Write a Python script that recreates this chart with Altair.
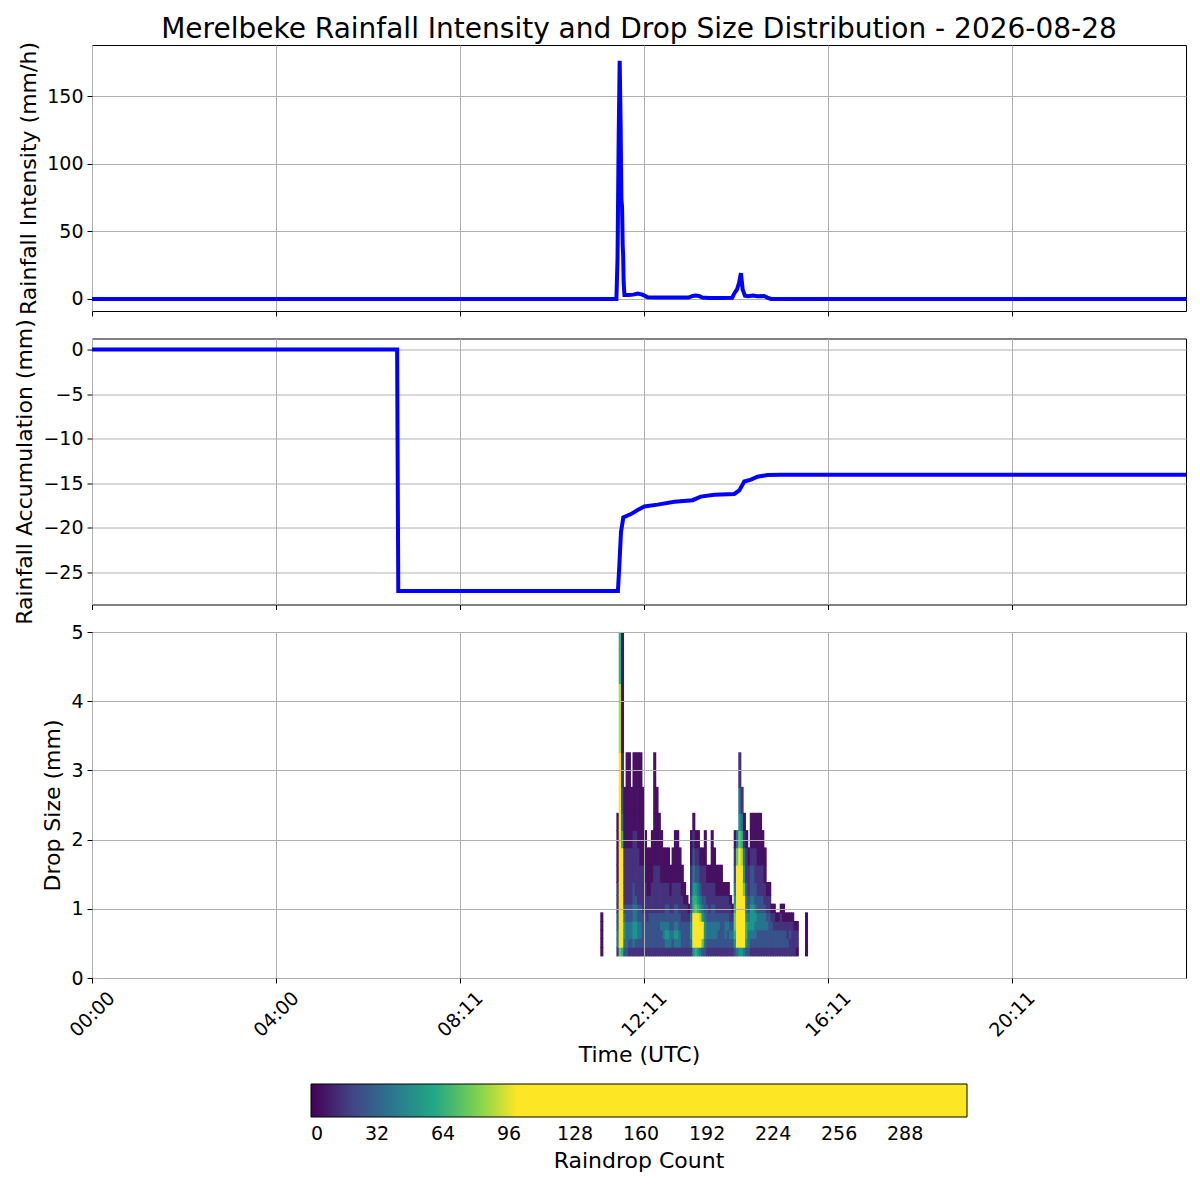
import altair as alt
import pandas as pd

TITLE = "Merelbeke Rainfall Intensity and Drop Size Distribution - 2026-08-28"

# x axis: minutes since start of the day
X_MAX = 1427
TICK_VALUES = [0, 240, 480, 720, 960, 1200]
TICK_LABELS = ["00:00", "04:00", "08:11", "12:11", "16:11", "20:11"]

# Rainfall intensity (mm/h)
T_INT = [0, 684, 685.5, 687, 688.3, 689.5, 690.5, 691.4, 692.2, 692.8, 693.5, 694.5, 700, 706, 712, 718,
         724.8, 735, 750, 765, 778, 783.5, 787, 791.7, 796, 805, 820, 835, 838.7, 841.3, 844,
         846.5, 848.7, 851.7, 856, 862, 868, 876.5, 881, 885.6, 1427]
V_INT = [0, 0, 30, 120, 176, 130, 74, 68, 40, 33, 12, 3, 3, 3.2, 4, 3.2,
         1.2, 1, 1, 1.1, 1, 2.2, 2.5, 2.2, 1, 0.8, 0.8, 0.9, 5, 7, 12,
         19, 7, 2.4, 2, 2.5, 2, 2.2, 1, 0, 0]

# Rainfall accumulation (mm)
T_ACC = [0, 398, 399.5, 686, 688, 690, 693, 703, 711.7, 720.4, 737.8, 759.5, 783.5, 794,
         811.7, 837.8, 844.3, 850.8, 859.5, 868, 881, 898.7, 1427]
V_ACC = [0, 0, -27.1, -27.1, -24, -20.5, -18.83, -18.46, -18.0, -17.6, -17.4, -17.07, -16.9, -16.5,
         -16.3, -16.2, -15.8, -14.8, -14.6, -14.27, -14.08, -14.04, -14.04]

# Drop size distribution: 3-minute columns from minute 663, each string lists
# count levels for the drop-size classes from the smallest upward
DSD_T0 = 663
DSD_STEP = 3
SIZE_EDGES = [0.312, 0.437, 0.562, 0.687, 0.812, 0.937, 1.062, 1.187, 1.375, 1.625,
              1.875, 2.125, 2.375, 2.75, 3.25, 3.75, 4.25, 4.75, 5.25]
LEVEL_COUNTS = [0, 4, 14, 25, 38, 52, 64, 76, 88, 180]
DSD_COLUMNS = [
    "11111", "", "", "", "", "", "",
    "244332221111", "799999999999998866", "699999999964321111", "3455432222111",
    "34443322221111", "23443322221111", "2344332222111", "24554433222111",
    "23554432222111", "23443322221111", "23443322211111", "2333322221111",
    "23333222111", "2333222111", "2333322111", "23333222111",
    "23333222211111", "2333322221111", "233332222111", "23343222111",
    "2344322211", "2454332211", "2454332211", "244332211",
    "2343322211", "24543322111", "24543322111", "2443322211",
    "233322211", "23332211", "2333221", "233321",
    "24554332211", "599996654321", "69999765321", "59999654321",
    "4999854321", "3799543221", "34554332211", "234433221",
    "234432221", "23443322111", "2344332211", "234432211",
    "233432211", "233332211", "23333221", "23443221",
    "23343221", "2343221", "234321", "35677654321",
    "49999999974", "59999999997542", "5999999998642", "499999975421",
    "35665443221", "3445433221", "234555433211", "234555433211",
    "234454332211", "233443322111", "233443322111", "23344332211",
    "2334432211", "23343221", "23333221", "233321",
    "233221", "23321", "23321", "233221",
    "233211", "23321", "23221", "22321",
    "22221", "2221", "1221", "",
    "", "", "11111",
]

COLOR_DOMAIN = [0, 10, 20, 30, 40, 50, 60, 70, 80, 90, 100, 318]
COLOR_RANGE = ["#440154", "#482475", "#414487", "#355f8d", "#2a788e", "#21918c",
               "#22a884", "#44bf70", "#7ad151", "#bddf26", "#fde725", "#fde725"]
CBAR_TICKS = [0, 32, 64, 96, 128, 160, 192, 224, 256, 288]

FONT = "DejaVu Sans"

df_int = pd.DataFrame({"t": T_INT, "v": V_INT})
df_acc = pd.DataFrame({"t": T_ACC, "v": V_ACC})

# cells overlap their neighbours by about one pixel so no white seams show
SEAM_T = 1.0
SEAM_S = 0.012
rows = []
for c, col in enumerate(DSD_COLUMNS):
    t0 = DSD_T0 + c * DSD_STEP
    for i, ch in enumerate(col):
        rows.append({"t0": t0, "t1": t0 + DSD_STEP + SEAM_T, "s0": SIZE_EDGES[i],
                     "s1": SIZE_EDGES[i + 1] + SEAM_S, "count": LEVEL_COUNTS[int(ch)]})
df_dsd = pd.DataFrame(rows)

label_expr = "[" + ",".join("'%s'" % s for s in TICK_LABELS) + "][indexof([" + \
    ",".join(str(v) for v in TICK_VALUES) + "], datum.value)]"

xscale = alt.Scale(domain=[0, X_MAX], nice=False, zero=False)
axis_top = alt.Axis(values=TICK_VALUES, labels=False, ticks=True, title=None, grid=True, domain=False)

p1 = alt.Chart(
    df_int,
    title=alt.TitleParams(TITLE, fontSize=28, fontWeight="normal", font=FONT, anchor="middle",
                          frame="group", offset=-24, baseline="alphabetic", color="black"),
).mark_line(color="#0000ff", strokeWidth=4, clip=True).encode(
    x=alt.X("t:Q", scale=xscale, axis=axis_top),
    y=alt.Y("v:Q", scale=alt.Scale(domain=[-8.9, 187.7], nice=False, zero=False),
            axis=alt.Axis(values=[0, 50, 100, 150], title="Rainfall Intensity (mm/h)", domain=False)),
).properties(width=1094, height=266)

p2 = alt.Chart(df_acc).mark_line(color="#0000ff", strokeWidth=4, clip=True).encode(
    x=alt.X("t:Q", scale=xscale, axis=axis_top),
    y=alt.Y("v:Q", scale=alt.Scale(domain=[-28.6, 1.23], nice=False, zero=False),
            axis=alt.Axis(values=[-25, -20, -15, -10, -5, 0], title="Rainfall Accumulation (mm)", domain=False)),
).properties(width=1094, height=266)

cscale = alt.Scale(domain=COLOR_DOMAIN, range=COLOR_RANGE, clamp=True)
p3 = alt.Chart(df_dsd).mark_rect(clip=True).encode(
    x=alt.X("t0:Q", scale=xscale,
            axis=alt.Axis(values=TICK_VALUES, labelExpr=label_expr, labelAngle=315, labelAlign="center",
                          labelBaseline="middle", labelPadding=31, title="Time (UTC)", grid=True,
                          domain=False, zindex=1, titlePadding=4)),
    x2="t1:Q",
    y=alt.Y("s0:Q", scale=alt.Scale(domain=[0, 5], nice=False, zero=False),
            axis=alt.Axis(values=[0, 1, 2, 3, 4, 5], title="Drop Size (mm)", domain=False, zindex=1)),
    y2="s1:Q",
    color=alt.Color("count:Q", scale=cscale,
                    legend=alt.Legend(type="gradient", orient="none", legendX=219, legendY=452,
                                      direction="horizontal",
                                      gradientLength=656, gradientThickness=33, title="Raindrop Count",
                                      titleOrient="bottom", titleAnchor="middle", values=CBAR_TICKS,
                                      labelAlign="center", labelOffset=8, titlePadding=7,
                                      gradientStrokeColor="black", gradientStrokeWidth=1,
                                      labelFontSize=19, titleFontSize=22, titleFontWeight="normal",
                                      labelFont=FONT, titleFont=FONT, labelColor="black",
                                      titleColor="black", labelOverlap=False)),
).properties(width=1094, height=346)

chart = alt.VConcatChart(
    vconcat=[p1, p2, p3], spacing=27.5, bounds="flush",
    padding={"left": 5, "top": 7, "right": 2, "bottom": 2},
).resolve_scale(color="independent").configure_view(
    stroke="black", strokeWidth=1
).configure_axis(
    labelFont=FONT, titleFont=FONT, labelFontSize=19, titleFontSize=22, titleFontWeight="normal",
    labelColor="black", titleColor="black", tickColor="black", tickSize=5, tickWidth=1,
    gridColor="#b0b0b0", gridWidth=1, labelPadding=4, titlePadding=6
)

chart.save("out.html", embed_options={"renderer": "svg", "actions": False})
